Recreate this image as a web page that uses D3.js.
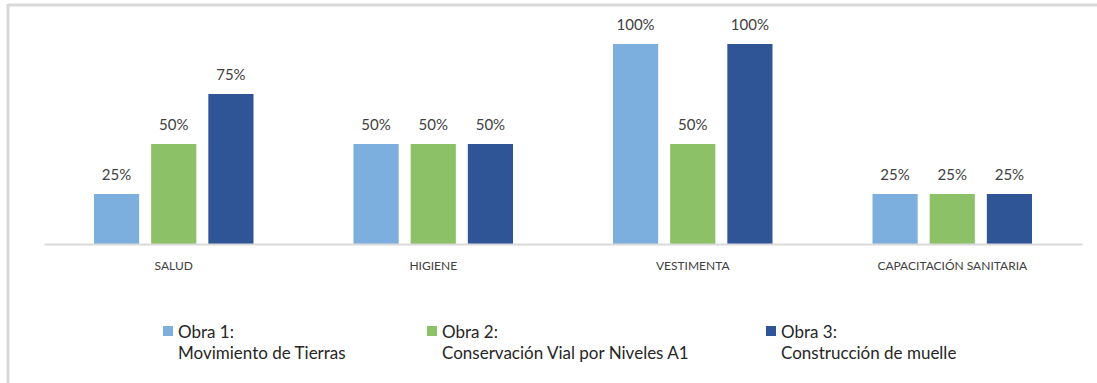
<!DOCTYPE html>
<html>
<head>
<meta charset="utf-8">
<script src="https://cdn.jsdelivr.net/npm/d3@7"></script>
<style>
  html, body { margin: 0; padding: 0; background: #fff; }
  svg { display: block; }
  text { font-family: Lato, "Open Sans", sans-serif; }
</style>
</head>
<body>
<div id="chart"></div>
<script>
const categories = ["SALUD", "HIGIENE", "VESTIMENTA", "CAPACITACIÓN SANITARIA"];
const seriesNames = ["Obra 1:", "Obra 2:", "Obra 3:"];
const seriesSubtitles = ["Movimiento de Tierras", "Conservación Vial por Niveles A1", "Construcción de muelle"];
const seriesColors = ["#7cafdd", "#8cc168", "#2f5597"];
const obra1 = [0.25, 0.50, 1.00, 0.25];
const obra2 = [0.50, 0.50, 0.50, 0.25];
const obra3 = [0.75, 0.50, 1.00, 0.25];
const seriesValues = [obra1, obra2, obra3];

const W = 1097, H = 383;
const svg = d3.select("#chart").append("svg").attr("width", W).attr("height", H);

// frame (cropped Excel chart border)
svg.append("line").attr("x1", 8).attr("x2", 1097).attr("y1", 5).attr("y2", 5)
  .attr("stroke", "#d9d9d9").attr("stroke-width", 3);
svg.append("line").attr("x1", 8).attr("x2", 8).attr("y1", 4).attr("y2", 383)
  .attr("stroke", "#d9d9d9").attr("stroke-width", 3);

const plotLeft = 44, plotRight = 1082;
const x0 = d3.scaleBand().domain(categories).range([plotLeft, plotRight]).padding(0);
const groupOffset = (x0.bandwidth() - 159.5) / 2;
const x1 = d3.scaleBand().domain(d3.range(seriesNames.length))
  .range([groupOffset, x0.bandwidth() - groupOffset]).paddingInner(0.21).paddingOuter(0);
const y = d3.scaleLinear().domain([0, 1]).range([244, 44]);

const groups = svg.append("g").selectAll("g").data(categories).join("g")
  .attr("transform", d => `translate(${x0(d)},0)`);

groups.each(function(cat, ci) {
  const g = d3.select(this);
  seriesValues.forEach((vals, si) => {
    const v = vals[ci];
    g.append("rect")
      .attr("x", x1(si)).attr("width", x1.bandwidth())
      .attr("y", y(v)).attr("height", y(0) - y(v))
      .attr("fill", seriesColors[si]);
    g.append("text")
      .attr("x", x1(si) + x1.bandwidth() / 2)
      .attr("y", y(v) - 14)
      .attr("text-anchor", "middle")
      .attr("font-size", 15)
      .attr("fill", "#404040")
      .text(d3.format(".0%")(v));
  });
});

// axis
const xAxis = d3.axisBottom(x0).tickSize(0).tickPadding(0);
const axG = svg.append("g").attr("transform", `translate(0,${y(0)})`).call(xAxis);
axG.select(".domain").attr("stroke", "#d9d9d9").attr("stroke-width", 2);
axG.selectAll(".tick text")
  .attr("dy", null).attr("y", 26)
  .attr("font-size", 12).attr("fill", "#404040")
  .attr("font-family", "Lato, 'Open Sans', sans-serif");

// legend
const legendX = [163, 427, 766];
const leg = svg.append("g").selectAll("g").data(seriesNames).join("g")
  .attr("transform", (d, i) => `translate(${legendX[i]},0)`);
leg.append("rect").attr("x", 0).attr("y", 326).attr("width", 10).attr("height", 10)
  .attr("fill", (d, i) => seriesColors[i]);
leg.append("text").attr("x", 15).attr("y", 338).attr("font-size", 17).attr("fill", "#262626")
  .text(d => d);
leg.append("text").attr("x", 15).attr("y", 359).attr("font-size", 17).attr("fill", "#262626")
  .text((d, i) => seriesSubtitles[i]);
</script>
</body>
</html>
